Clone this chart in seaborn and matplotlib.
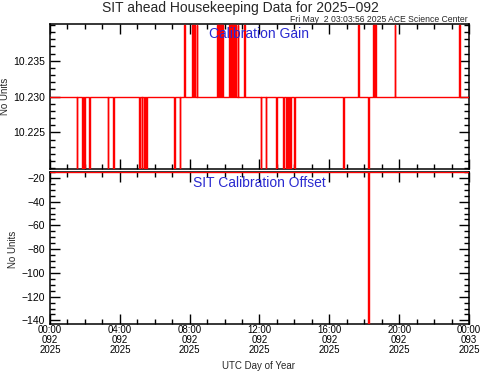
import pandas as pd
import seaborn as sns
import matplotlib
matplotlib.use("Agg")
import matplotlib.pyplot as plt
import matplotlib.dates as mdates

# Day 092 of 2025
day_start = pd.Timestamp("2025-04-02 00:00")
day_end = pd.Timestamp("2025-04-03 00:00")

# Calibration gain: baseline with short drops and short spikes (hours UTC)
gain_base = 10.230
gain_low = 10.220
gain_high = 10.240
gain_drop_hours = [1.53, 1.85, 1.95, 2.25, 3.30, 3.61, 5.12, 5.25, 5.38, 5.50,
                   7.10, 7.43, 12.07, 12.35, 12.96, 13.36, 13.52, 13.63, 13.75,
                   13.98, 16.78, 18.23]
gain_spike_hours = [7.69, 8.15, 8.27, 8.40,
                    9.58, 9.62, 9.66, 9.70, 9.74, 9.78, 9.82, 9.86,
                    10.23, 10.27, 10.31, 10.35, 10.39, 10.43, 10.47, 10.51, 10.55, 10.59,
                    10.74, 11.13, 17.64, 18.52, 18.58, 18.64, 19.74, 23.42]

# Calibration offset: flat with a single drop
offset_base = -15
offset_low = -143
offset_drop_hours = [18.23]

pulse_len = 0.04  # hours


def pulse_series(base, events):
    # events: list of (hour, level); returns a step-like series
    events = sorted(events)
    hrs, vals = [0.0], [base]
    for h, lev in events:
        hrs += [h, h, h + pulse_len, h + pulse_len]
        vals += [base, lev, lev, base]
    hrs.append(24.0)
    vals.append(base)
    return pd.DataFrame({"time": day_start + pd.to_timedelta(hrs, unit="h"),
                         "value": vals})


gain_df = pulse_series(gain_base, [(h, gain_low) for h in gain_drop_hours] +
                       [(h, gain_high) for h in gain_spike_hours])
offset_df = pulse_series(offset_base, [(h, offset_low) for h in offset_drop_hours])

sns.set_style("ticks")
plt.rcParams["font.family"] = ["Liberation Sans", "DejaVu Sans"]
plt.rcParams["axes.linewidth"] = 1.1
plt.rcParams["xtick.direction"] = "in"
plt.rcParams["ytick.direction"] = "in"

fig = plt.figure(figsize=(4.81, 3.71), dpi=100)
ax1 = fig.add_axes([0.104, 0.5445, 0.871, 0.3905])
ax2 = fig.add_axes([0.104, 0.1267, 0.871, 0.4097])

sns.lineplot(data=gain_df, x="time", y="value", ax=ax1, color="red", lw=1.0,
             sort=False, estimator=None, zorder=3)
sns.lineplot(data=offset_df, x="time", y="value", ax=ax2, color="red", lw=1.0,
             sort=False, estimator=None, zorder=3)

ax1.set_ylim(10.2199, 10.2401)
ax1.set_yticks([10.225, 10.230, 10.235])
ax1.set_yticklabels(["10.225", "10.230", "10.235"])
ax1.yaxis.set_minor_locator(plt.MultipleLocator(0.001))

ax2.set_ylim(-143, -15)
ax2.set_yticks([-20, -40, -60, -80, -100, -120, -140])
ax2.set_yticklabels(["\u221220", "\u221240", "\u221260", "\u221280",
                     "\u2212100", "\u2212120", "\u2212140"])
ax2.yaxis.set_minor_locator(plt.MultipleLocator(5))

for ax in (ax1, ax2):
    ax.set_xlim(day_start, day_end)
    ax.xaxis.set_major_locator(mdates.HourLocator(byhour=range(0, 24, 4)))
    ax.xaxis.set_minor_locator(mdates.HourLocator())
    ax.tick_params(which="both", direction="in", top=True, right=True,
                   labelsize=7.5, colors="black", width=1)
    ax.tick_params(which="major", length=7)
    ax.tick_params(which="minor", length=3.5)
    ax.set_ylabel("")
    ax.set_xlabel("")
    for s in ax.spines.values():
        s.set_visible(True)
        s.set_color("black")

ax1.tick_params(axis="x", labelbottom=False)
ax2.xaxis.set_major_formatter(mdates.DateFormatter("%H:%M\n%j\n%Y"))
for lbl in ax2.get_xticklabels():
    lbl.set_linespacing(0.95)
ax2.tick_params(axis="x", pad=1, labelsize=7)

# axis titles placed like the original layout
fig.text(0.011, 0.74, "No Units", rotation=90, ha="center", va="center", fontsize=7)
fig.text(0.026, 0.329, "No Units", rotation=90, ha="center", va="center", fontsize=7)
fig.text(0.537, 0.014, "UTC Day of Year", ha="center", va="center", fontsize=7)

ax1.text(0.5, 0.93, "Calibration Gain", transform=ax1.transAxes, ha="center",
         va="center", color="#2a2ad0", fontsize=10)
ax2.text(0.5, 0.93, "SIT Calibration Offset", transform=ax2.transAxes, ha="center",
         va="center", color="#2a2ad0", fontsize=10)

fig.text(0.5, 0.978, "SIT ahead Housekeeping Data for 2025\u2212092", ha="center",
         va="center", fontsize=10)
fig.text(0.972, 0.948, "Fri May  2 03:03:56 2025 ACE Science Center", ha="right",
         va="center", fontsize=6.2)

fig.savefig("out.png", dpi=100)
